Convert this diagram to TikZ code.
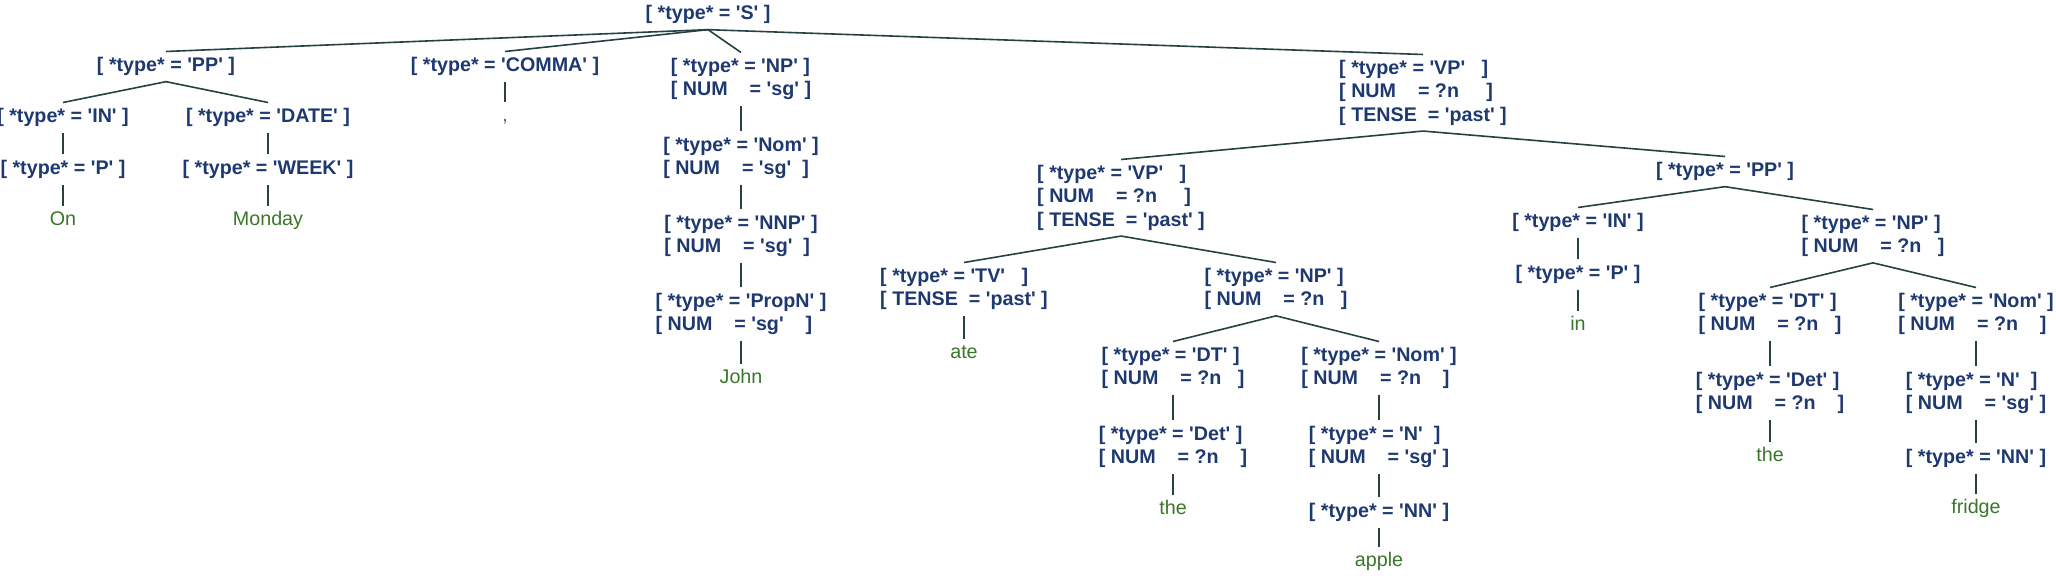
\documentclass[tikz,border=0pt]{standalone}
\usepackage{fontspec}
\usepackage{xcolor}
\newfontfamily\treefont{Liberation Sans}[Ligatures=TeXOff]
\definecolor{featblue}{RGB}{30,56,112}
\definecolor{leafgreen}{RGB}{58,118,42}
\definecolor{branchgray}{RGB}{36,66,66}
\usetikzlibrary{positioning}
\begin{document}
\begin{tikzpicture}[x=0.5pt,y=-0.5pt,
    feat/.style={anchor=north,align=left,inner xsep=0pt,inner ysep=2.75pt,text=featblue,
      font=\treefont\fontsize{9.85pt}{11.6pt}\selectfont\bfseries},
    leaf/.style={anchor=north,inner xsep=0pt,inner ysep=2.5pt,text height=7.1pt,text depth=2.1pt,
      text=leafgreen,font=\treefont\fontsize{9.85pt}{11.6pt}\selectfont},
    branch/.style={draw=branchgray,line width=0.8pt}]
    \useasboundingbox (0,0) rectangle (2056,576);
    % root and first level
    \node[feat] (s) at (708,-0.5) {[ *type* = 'S' ]};
    \node[feat] (ppa) at (166,51.5) {[ *type* = 'PP' ]};
    \node[feat] (comma) at (505,51.5) {[ *type* = 'COMMA' ]};
    \node[feat] (npa) at (741,52.5) {[ *type* = 'NP' ]\\{}[ NUM\ \ \ \ = 'sg' ]};
    \node[feat] (vpa) at (1423,54.5) {[ *type* = 'VP'\ \ \ ]\\{}[ NUM\ \ \ \ = ?n\ \ \ \ \ ]\\{}[ TENSE\ \ = 'past' ]};
    % On Monday
    \node[feat] (ina) at (63,102.5) {[ *type* = 'IN' ]};
    \node[feat] (date) at (268,102.5) {[ *type* = 'DATE' ]};
    \node[feat] (pa) at (63,154.5) {[ *type* = 'P' ]};
    \node[feat] (week) at (268,154.5) {[ *type* = 'WEEK' ]};
    \node[leaf] (on) at (63,206) {On};
    \node[leaf] (monday) at (268,206) {Monday};
    \node[leaf] (commaw) at (505,102) {,};
    % John
    \node[feat] (noma) at (741,131.5) {[ *type* = 'Nom' ]\\{}[ NUM\ \ \ \ = 'sg'\ \ ]};
    \node[feat] (nnp) at (741,209.5) {[ *type* = 'NNP' ]\\{}[ NUM\ \ \ \ = 'sg'\ \ ]};
    \node[feat] (propn) at (741,287.5) {[ *type* = 'PropN' ]\\{}[ NUM\ \ \ \ = 'sg'\ \ \ \ ]};
    \node[leaf] (john) at (741,364) {John};
    % ate the apple
    \node[feat] (vpb) at (1121,159.5) {[ *type* = 'VP'\ \ \ ]\\{}[ NUM\ \ \ \ = ?n\ \ \ \ \ ]\\{}[ TENSE\ \ = 'past' ]};
    \node[feat] (tv) at (964,262.5) {[ *type* = 'TV'\ \ \ ]\\{}[ TENSE\ \ = 'past' ]};
    \node[feat] (npb) at (1276,262.5) {[ *type* = 'NP' ]\\{}[ NUM\ \ \ \ = ?n\ \ \ ]};
    \node[leaf] (ate) at (964,339) {ate};
    \node[feat] (dta) at (1173,341.5) {[ *type* = 'DT' ]\\{}[ NUM\ \ \ \ = ?n\ \ \ ]};
    \node[feat] (nomb) at (1379,341.5) {[ *type* = 'Nom' ]\\{}[ NUM\ \ \ \ = ?n\ \ \ \ ]};
    \node[feat] (deta) at (1173,420.5) {[ *type* = 'Det' ]\\{}[ NUM\ \ \ \ = ?n\ \ \ \ ]};
    \node[feat] (na) at (1379,420.5) {[ *type* = 'N'\ \ ]\\{}[ NUM\ \ \ \ = 'sg' ]};
    \node[leaf] (thea) at (1173,495) {the};
    \node[feat] (nna) at (1379,497.5) {[ *type* = 'NN' ]};
    \node[leaf] (apple) at (1379,547) {apple};
    % in the fridge
    \node[feat] (ppb) at (1725,156.5) {[ *type* = 'PP' ]};
    \node[feat] (inb) at (1578,207.5) {[ *type* = 'IN' ]};
    \node[feat] (npc) at (1873,209.5) {[ *type* = 'NP' ]\\{}[ NUM\ \ \ \ = ?n\ \ \ ]};
    \node[feat] (pb) at (1578,259.5) {[ *type* = 'P' ]};
    \node[leaf] (inw) at (1578,311) {in};
    \node[feat] (dtb) at (1770,287.5) {[ *type* = 'DT' ]\\{}[ NUM\ \ \ \ = ?n\ \ \ ]};
    \node[feat] (nomc) at (1976,287.5) {[ *type* = 'Nom' ]\\{}[ NUM\ \ \ \ = ?n\ \ \ \ ]};
    \node[feat] (detb) at (1770,366.5) {[ *type* = 'Det' ]\\{}[ NUM\ \ \ \ = ?n\ \ \ \ ]};
    \node[feat] (nb) at (1976,366.5) {[ *type* = 'N'\ \ ]\\{}[ NUM\ \ \ \ = 'sg' ]};
    \node[leaf] (theb) at (1770,442) {the};
    \node[feat] (nnb) at (1976,443.5) {[ *type* = 'NN' ]};
    \node[leaf] (fridge) at (1976,494) {fridge};
    % branches
    \foreach \a/\b in {s/ppa,s/comma,s/npa,s/vpa,ppa/ina,ppa/date,ina/pa,pa/on,date/week,week/monday,
        comma/commaw,npa/noma,noma/nnp,nnp/propn,propn/john,vpa/vpb,vpa/ppb,vpb/tv,vpb/npb,tv/ate,
        npb/dta,npb/nomb,dta/deta,deta/thea,nomb/na,na/nna,nna/apple,ppb/inb,ppb/npc,inb/pb,pb/inw,
        npc/dtb,npc/nomc,dtb/detb,detb/theb,nomc/nb,nb/nnb,nnb/fridge}
        {\draw[branch] (\a.south) -- (\b.north);}
\end{tikzpicture}
\end{document}
